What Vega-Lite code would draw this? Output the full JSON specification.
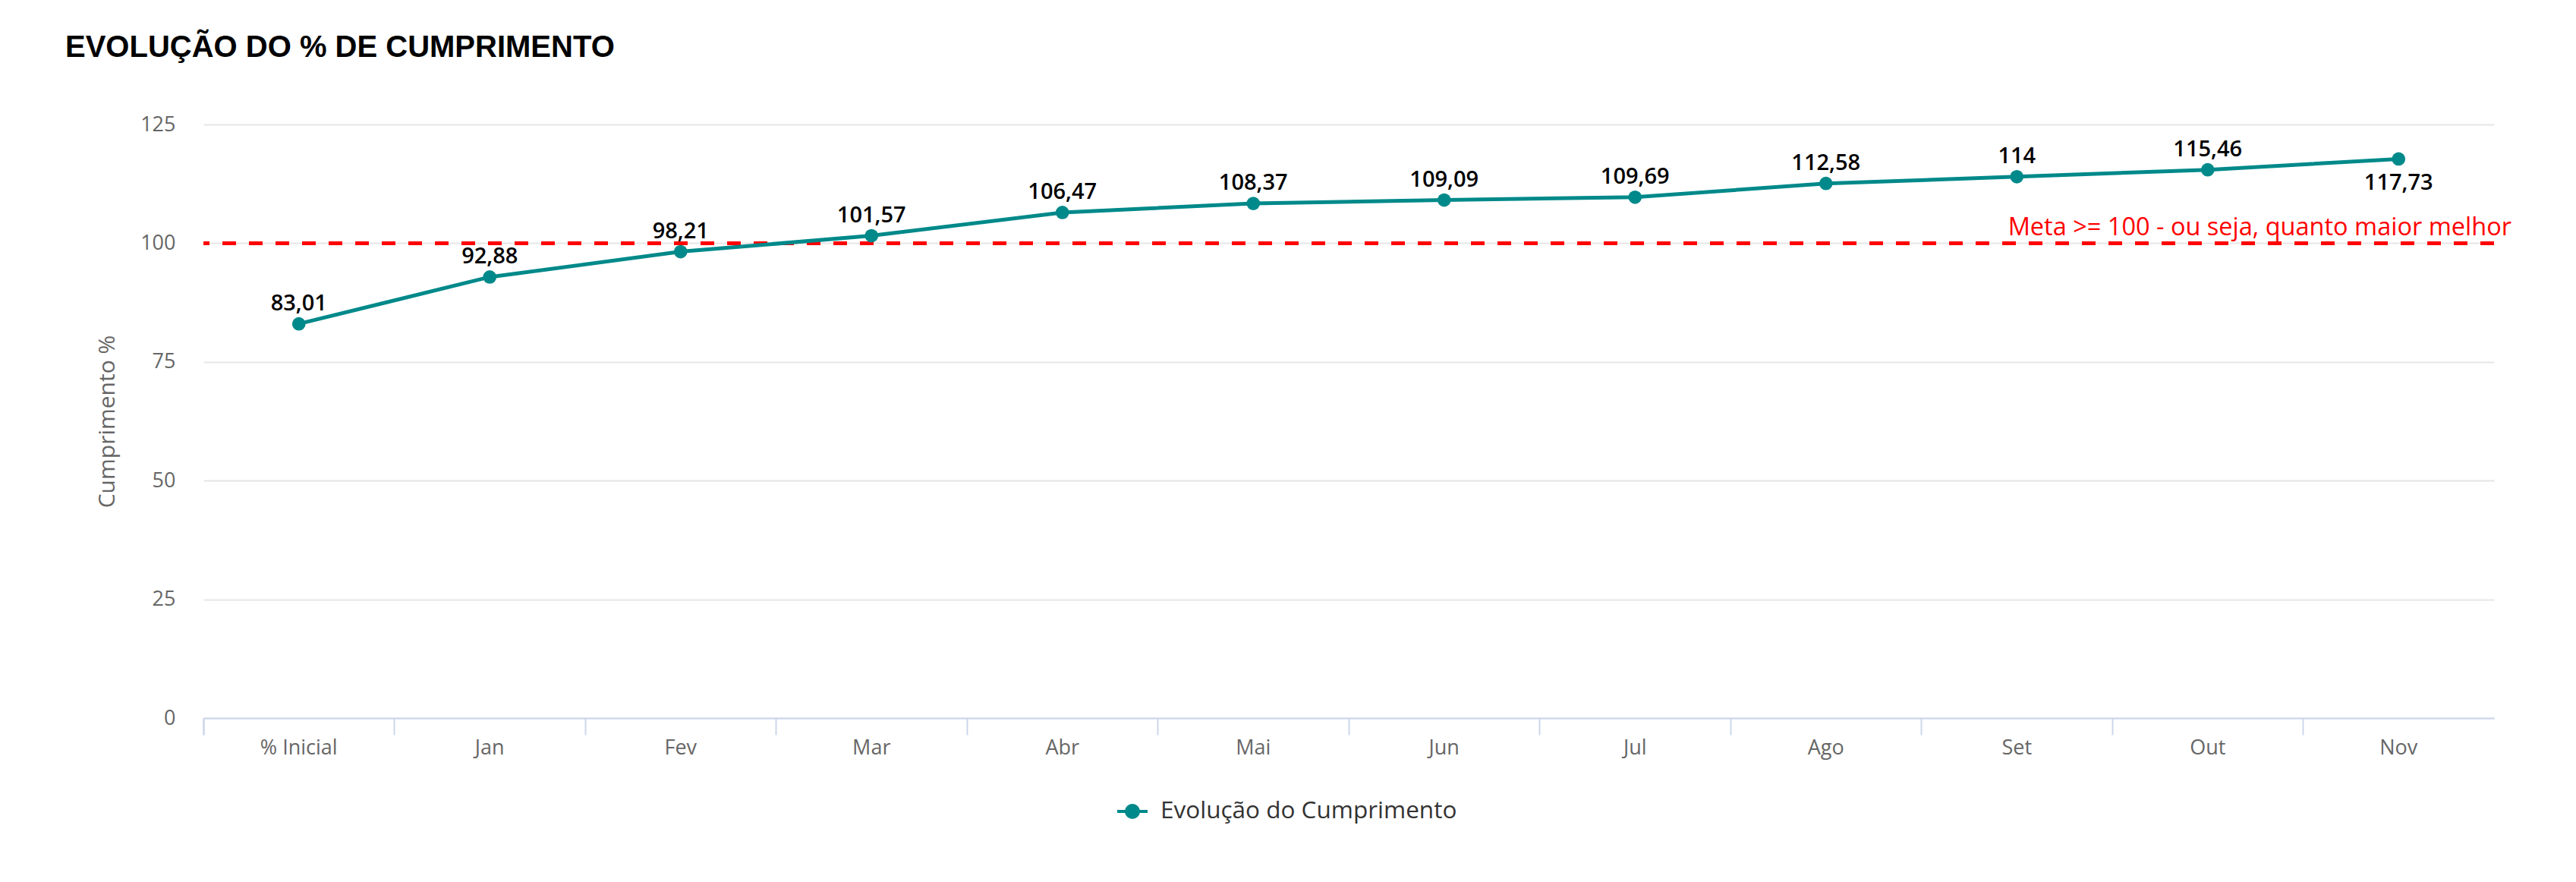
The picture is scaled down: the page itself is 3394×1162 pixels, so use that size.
{
  "$schema": "https://vega.github.io/schema/vega-lite/v6.json",
  "autosize": {"type": "none"},
  "width": 3018,
  "height": 782,
  "padding": {"left": 268, "top": 164, "right": 108, "bottom": 216},
  "background": "white",
  "config": {
    "font": "Open Sans",
    "view": {"stroke": null},
    "locale": {"number": {"decimal": ",", "thousands": ".", "grouping": [3], "currency": ["R$", ""]}}
  },
  "title": {
    "text": "EVOLUÇÃO DO % DE CUMPRIMENTO",
    "anchor": "start",
    "frame": "group",
    "font": "Liberation Sans",
    "fontSize": 40,
    "fontWeight": "bold",
    "color": "#000000",
    "dx": -182,
    "offset": 35,
    "baseline": "alphabetic"
  },
  "data": {
    "values": [
      {"mes": "% Inicial", "valor": 83.01, "serie": "Evolução do Cumprimento"},
      {"mes": "Jan", "valor": 92.88, "serie": "Evolução do Cumprimento"},
      {"mes": "Fev", "valor": 98.21, "serie": "Evolução do Cumprimento"},
      {"mes": "Mar", "valor": 101.57, "serie": "Evolução do Cumprimento"},
      {"mes": "Abr", "valor": 106.47, "serie": "Evolução do Cumprimento"},
      {"mes": "Mai", "valor": 108.37, "serie": "Evolução do Cumprimento"},
      {"mes": "Jun", "valor": 109.09, "serie": "Evolução do Cumprimento"},
      {"mes": "Jul", "valor": 109.69, "serie": "Evolução do Cumprimento"},
      {"mes": "Ago", "valor": 112.58, "serie": "Evolução do Cumprimento"},
      {"mes": "Set", "valor": 114, "serie": "Evolução do Cumprimento"},
      {"mes": "Out", "valor": 115.46, "serie": "Evolução do Cumprimento"},
      {"mes": "Nov", "valor": 117.73, "serie": "Evolução do Cumprimento"}
    ]
  },
  "encoding": {
    "x": {
      "field": "mes",
      "type": "ordinal",
      "sort": null,
      "scale": {"type": "band", "paddingInner": 0, "paddingOuter": 0},
      "axis": {
        "title": null,
        "bandPosition": 0,
        "tickExtra": true,
        "ticks": true,
        "tickSize": 22,
        "tickWidth": 2,
        "tickColor": "#ccd6eb",
        "domainColor": "#ccd6eb",
        "domainWidth": 2,
        "grid": false,
        "labelAngle": 0,
        "labelFontSize": 27,
        "labelColor": "#666666",
        "labelPadding": 4,
        "labelBaseline": "top"
      }
    }
  },
  "layer": [
    {
      "mark": {"type": "rule", "opacity": 0},
      "encoding": {
        "y": {
          "field": "valor",
          "type": "quantitative",
          "scale": {"domain": [0, 125], "nice": false},
          "axis": {
            "title": "Cumprimento %",
            "titleFontSize": 30,
            "titleFontWeight": "normal",
            "titleColor": "#666666",
            "titlePadding": 28,
            "values": [0, 25, 50, 75, 100, 125],
            "domain": false,
            "ticks": false,
            "grid": true,
            "gridColor": "#e6e6e6",
            "gridWidth": 2,
            "labelFontSize": 27,
            "labelColor": "#666666",
            "labelPadding": 37
          }
        }
      }
    },
    {
      "data": {"values": [{"meta": 100, "rotulo": "Meta >= 100 - ou seja, quanto maior melhor"}]},
      "mark": {"type": "rule", "color": "#ff0000", "strokeWidth": 5, "strokeDash": [18, 17]},
      "encoding": {"x": null, "y": {"field": "meta", "type": "quantitative"}}
    },
    {
      "data": {"values": [{"meta": 100, "rotulo": "Meta >= 100 - ou seja, quanto maior melhor"}]},
      "mark": {"type": "text", "align": "right", "baseline": "alphabetic", "dx": 23, "dy": -10, "fontSize": 32.5, "color": "#ff0000"},
      "encoding": {"x": {"value": "width"}, "y": {"field": "meta", "type": "quantitative"}, "text": {"field": "rotulo"}}
    },
    {
      "mark": {"type": "line", "strokeWidth": 5},
      "encoding": {
        "y": {"field": "valor", "type": "quantitative"},
        "color": {
          "field": "serie",
          "type": "nominal",
          "scale": {"range": ["#00898a"]},
          "legend": {
            "title": null,
            "orient": "none",
            "legendX": 1202,
            "legendY": 883,
            "padding": 0,
            "symbolType": "M-1,0L1,0M0.4,0A0.4,0.4,0,1,1,-0.4,0A0.4,0.4,0,1,1,0.4,0",
            "symbolSize": 1600,
            "symbolStrokeWidth": 4,
            "labelFontSize": 31.5,
            "labelLimit": 0,
            "labelColor": "#333333",
            "labelOffset": 15,
            "encode": {"symbols": {"update": {"fill": {"value": "#00898a"}, "stroke": {"value": "#00898a"}, "strokeWidth": {"value": 4}, "opacity": {"value": 1}}}}
          }
        }
      }
    },
    {
      "mark": {"type": "point", "filled": true, "size": 314, "opacity": 1},
      "encoding": {
        "y": {"field": "valor", "type": "quantitative"},
        "color": {"field": "serie", "type": "nominal"}
      }
    },
    {
      "transform": [{"filter": "datum.mes != 'Nov'"}],
      "mark": {"type": "text", "baseline": "alphabetic", "dy": -18, "fontSize": 29, "fontWeight": 600, "color": "#000000"},
      "encoding": {
        "y": {"field": "valor", "type": "quantitative"},
        "text": {"field": "valor", "type": "quantitative", "format": ".2~f"}
      }
    },
    {
      "transform": [{"filter": "datum.mes == 'Nov'"}],
      "mark": {"type": "text", "baseline": "alphabetic", "dy": 41, "fontSize": 29, "fontWeight": 600, "color": "#000000"},
      "encoding": {
        "y": {"field": "valor", "type": "quantitative"},
        "text": {"field": "valor", "type": "quantitative", "format": ".2~f"}
      }
    }
  ]
}
